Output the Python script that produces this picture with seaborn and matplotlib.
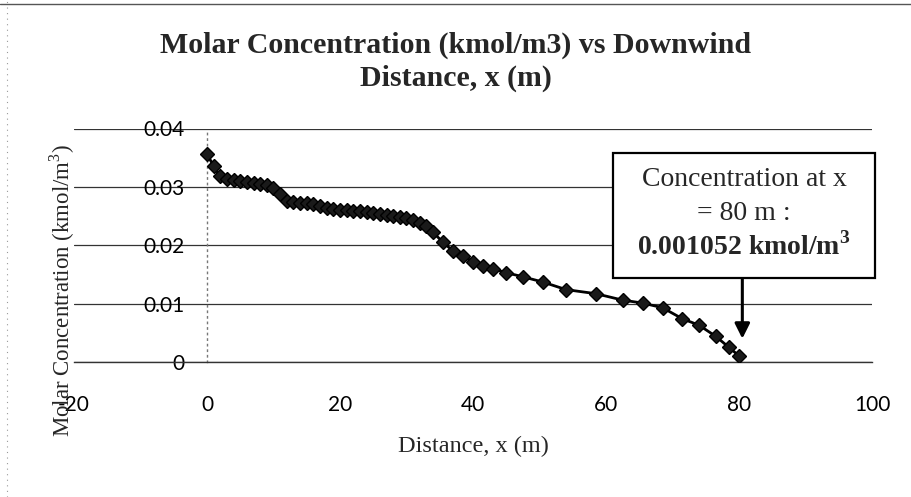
import matplotlib
matplotlib.use("Agg")
import matplotlib.pyplot as plt
import seaborn as sns
import pandas as pd
from matplotlib.patches import Rectangle
from matplotlib.lines import Line2D

# ---- data ----
distance = [0, 1, 2, 3, 4, 5, 6, 7, 8, 9, 10, 11, 12, 13, 14, 15, 16, 17, 18, 19,
            20, 21, 22, 23, 24, 25, 26, 27, 28, 29, 30, 31, 32, 33, 34,
            35.5, 37, 38.5, 40, 41.5, 43, 45, 47.5, 50.5, 54, 58.5, 62.5, 65.5,
            68.5, 71.5, 74, 76.5, 78.5, 80]
concentration = [0.0357, 0.0335, 0.0318, 0.0313, 0.0311, 0.0310, 0.0309, 0.0307,
                 0.0305, 0.0303, 0.0298, 0.0288, 0.0276, 0.0274, 0.0273, 0.0272,
                 0.0270, 0.0267, 0.0264, 0.0262, 0.0261, 0.0260, 0.0259, 0.0258,
                 0.0257, 0.0255, 0.0253, 0.0251, 0.0250, 0.0248, 0.0246, 0.0243,
                 0.0238, 0.0233, 0.0222, 0.0205, 0.0190, 0.0181, 0.0172, 0.0165,
                 0.0160, 0.0153, 0.0146, 0.0137, 0.0124, 0.0117, 0.0106, 0.0101,
                 0.0093, 0.0074, 0.0063, 0.0044, 0.0025, 0.001052]
x_ticks = [-20, 0, 20, 40, 60, 80, 100]
x_tick_labels = ["-20", "0", "20", "40", "60", "80", "100"]
y_ticks = [0, 0.01, 0.02, 0.03, 0.04]
y_tick_labels = ["0", "0.01", "0.02", "0.03", "0.04"]

title_text = "Molar Concentration (kmol/m3) vs Downwind\nDistance, x (m)"
x_title = "Distance, x (m)"
y_title = "Molar Concentration (kmol/m$^3$)"
note_lines = ["Concentration at x", "= 80 m :", "0.001052 kmol/m$^{\\mathbf{3}}$"]

df = pd.DataFrame({"distance": distance, "concentration": concentration})

sns.set_style("white")
plt.rcParams["font.family"] = ["Liberation Serif", "DejaVu Serif"]
plt.rcParams["mathtext.fontset"] = "custom"
plt.rcParams["mathtext.rm"] = "Liberation Serif"
plt.rcParams["mathtext.bf"] = "Liberation Serif:bold"

W, H = 912, 497
fig = plt.figure(figsize=(W / 100, H / 100), dpi=100)
fig.patch.set_facecolor("white")

left_px, right_px, top_px, bottom_px = 74, 872, 128.5, 362
ax = fig.add_axes([left_px / W, 1 - bottom_px / H,
                   (right_px - left_px) / W, (bottom_px - top_px) / H])

sns.lineplot(data=df, x="distance", y="concentration", ax=ax,
             color="black", linewidth=2.0, marker="D", markersize=7,
             markerfacecolor="#1a1a1a", markeredgecolor="black",
             markeredgewidth=1.0, zorder=3)

ax.set_xlim(-20, 100)
ax.set_ylim(0, 0.04)
ax.set_xticks(x_ticks)
ax.set_xticklabels(x_tick_labels)
ax.set_yticks(y_ticks)
ax.set_yticklabels(y_tick_labels)
ax.set_xlabel("")
ax.set_ylabel("")

for s in ["top", "right"]:
    ax.spines[s].set_visible(False)
ax.spines["left"].set_position(("data", 0))
ax.spines["left"].set_linestyle((0, (1, 3)))
ax.spines["left"].set_color("#777777")
ax.spines["left"].set_linewidth(1.0)
ax.spines["bottom"].set_color("#333333")
ax.spines["bottom"].set_linewidth(1.0)

ax.yaxis.grid(True, color="#333333", linewidth=0.9)
ax.xaxis.grid(False)
ax.set_axisbelow(True)

tick_font = ["Lato", "DejaVu Sans"]
ax.tick_params(axis="both", length=0)
ax.tick_params(axis="y", pad=16)
ax.tick_params(axis="x", pad=24)
for lab in ax.get_xticklabels() + ax.get_yticklabels():
    lab.set_family(tick_font)
    lab.set_fontsize(15)
    lab.set_color("black")

# titles
fig.text(456 / W, 1 - 62 / H, title_text, ha="center", va="center",
         fontsize=21.5, fontweight="bold", linespacing=1.3)
fig.text(473 / W, 1 - 446 / H, x_title, ha="center", va="center", fontsize=17.5)
fig.text(62 / W, 1 - 290 / H, y_title, ha="center", va="center",
         rotation=90, fontsize=16.5)

# annotation box
bx0, bx1, by0, by1 = 613, 875, 153, 278
box = Rectangle((bx0 / W, 1 - by1 / H), (bx1 - bx0) / W, (by1 - by0) / H,
                transform=fig.transFigure, facecolor="white",
                edgecolor="black", linewidth=1.6, zorder=5)
fig.add_artist(box)
cx = (bx0 + bx1) / 2 / W
fig.text(cx, 1 - 180 / H, note_lines[0], ha="center", va="center",
         fontsize=20, zorder=6)
fig.text(cx, 1 - 213 / H, note_lines[1], ha="center", va="center",
         fontsize=20, zorder=6)
fig.text(cx, 1 - 246 / H, note_lines[2], ha="center", va="center",
         fontsize=20, fontweight="bold", zorder=6)

# arrow from box to the last point
ax.annotate("", xy=(distance[-1] + 0.5, 0.0040), xytext=(distance[-1] + 0.5, 0.0144),
            xycoords="data", textcoords="data",
            arrowprops=dict(arrowstyle="-|>,head_length=0.9,head_width=0.45",
                            color="black", lw=2.2, shrinkA=0, shrinkB=0),
            zorder=6)

# chart-area border fragments (top solid, left dotted)
fig.add_artist(Line2D([0.0, 1.0], [1 - 4 / H, 1 - 4 / H], transform=fig.transFigure,
                      color="#555555", linewidth=1.0))
fig.add_artist(Line2D([7 / W, 7 / W], [0, 1], transform=fig.transFigure,
                      color="#999999", linewidth=0.8, linestyle=(0, (1, 4))))

fig.savefig("out.png", dpi=100)
